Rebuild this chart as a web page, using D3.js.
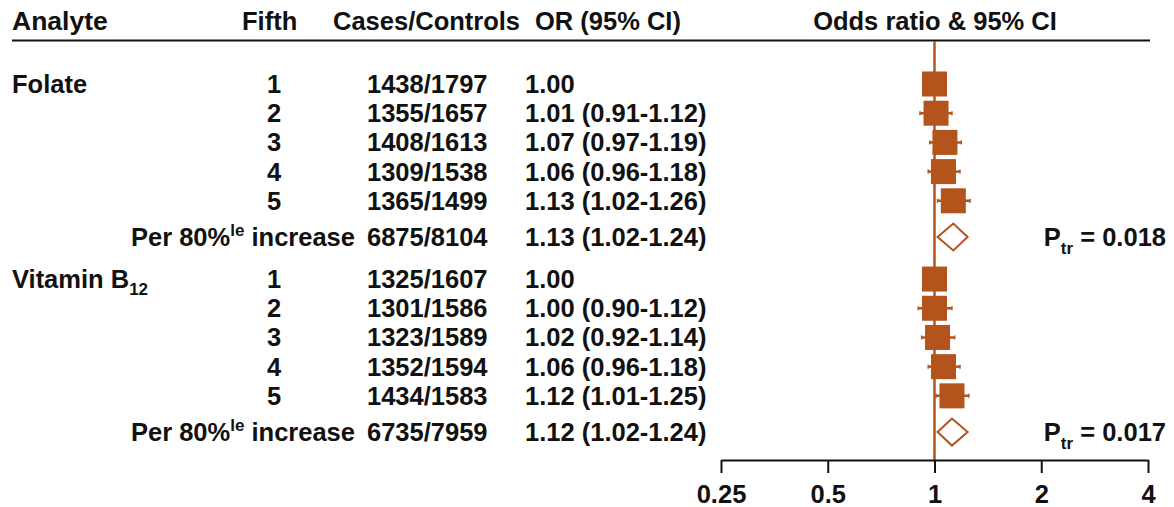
<!DOCTYPE html>
<html>
<head>
<meta charset="utf-8">
<script src="https://cdn.jsdelivr.net/npm/d3@7"></script>
<style>
  body { margin: 0; background: #fff; }
  text { font-family: "Liberation Sans", Arial, sans-serif; font-weight: bold; fill: #111; }
</style>
</head>
<body>
<div id="forest"></div>
<script>
const analytes = ["Folate", "Vitamin B12"];
const fifthLabels = ["1", "2", "3", "4", "5", "Per 80%le increase"];
const cases = [[1438, 1355, 1408, 1309, 1365, 6875], [1325, 1301, 1323, 1352, 1434, 6735]];
const controls = [[1797, 1657, 1613, 1538, 1499, 8104], [1607, 1586, 1589, 1594, 1583, 7959]];
const orValues = [[1.00, 1.01, 1.07, 1.06, 1.13, 1.13], [1.00, 1.00, 1.02, 1.06, 1.12, 1.12]];
const ciLower = [[null, 0.91, 0.97, 0.96, 1.02, 1.02], [null, 0.90, 0.92, 0.96, 1.01, 1.02]];
const ciUpper = [[null, 1.12, 1.19, 1.18, 1.26, 1.24], [null, 1.12, 1.14, 1.18, 1.25, 1.24]];
const pTrend = ["0.018", "0.017"];
const xTicks = [0.25, 0.5, 1, 2, 4];

const width = 1174, height = 507;
const orange = "#b4541d";
const fs = 25.5;

// build rows, with extra gap before the trend row and between analytes
const rows = [];
let slot = 0;
analytes.forEach((a, gi) => {
  if (gi > 0) slot += 0.44;
  fifthLabels.forEach((f, i) => {
    if (i === 5) slot += 0.24;
    rows.push({
      group: gi, analyte: i === 0 ? a : null, fifth: f, trend: i === 5,
      cc: cases[gi][i] + "/" + controls[gi][i],
      or: orValues[gi][i], lo: ciLower[gi][i], hi: ciUpper[gi][i],
      slot: slot
    });
    slot += 1;
  });
});

const svg = d3.select("#forest").append("svg")
  .attr("width", width)
  .attr("height", height);

const x = d3.scaleLog().base(2).domain([0.25, 4]).range([721, 1148]);
const y = d3.scaleLinear().domain([0, 1]).range([84, 113.2]);

// header
const header = svg.append("g").attr("font-size", fs);
header.append("text").attr("x", 12).attr("y", 30).attr("font-size", 26.5).text("Analyte");
header.append("text").attr("x", 242).attr("y", 30).text("Fifth");
header.append("text").attr("x", 333).attr("y", 30).text("Cases/Controls");
header.append("text").attr("x", 535).attr("y", 30).text("OR (95% CI)");
header.append("text").attr("x", 935).attr("y", 30).attr("text-anchor", "middle").text("Odds ratio & 95% CI");
svg.append("line")
  .attr("x1", 12).attr("x2", 1150).attr("y1", 40.5).attr("y2", 40.5)
  .attr("stroke", "#111").attr("stroke-width", 2);

// reference line at OR = 1
svg.append("line")
  .attr("x1", x(1)).attr("x2", x(1)).attr("y1", 41).attr("y2", 460)
  .attr("stroke", orange).attr("stroke-width", 2.5);

// table text
const rowG = svg.selectAll("g.row")
  .data(rows)
  .enter()
  .append("g")
  .attr("class", "row")
  .attr("font-size", fs)
  .attr("transform", d => `translate(0,${y(d.slot)})`);

rowG.filter(d => d.analyte).each(function(d) {
  const t = d3.select(this).append("text").attr("x", 12).attr("dy", "0.35em");
  if (d.analyte === "Vitamin B12") {
    t.append("tspan").text("Vitamin B");
    t.append("tspan").attr("font-size", 17).attr("dy", 7).text("12");
  } else {
    t.text(d.analyte);
  }
});

rowG.each(function(d) {
  const g = d3.select(this);
  if (d.trend) {
    const t = g.append("text").attr("x", 355).attr("dy", "0.35em").attr("text-anchor", "end");
    t.append("tspan").text("Per 80%");
    t.append("tspan").attr("font-size", 17).attr("dy", -10).text("le");
    t.append("tspan").attr("dy", 10).text(" increase");
    const p = g.append("text").attr("x", 1166).attr("dy", "0.35em").attr("text-anchor", "end");
    p.append("tspan").text("P");
    p.append("tspan").attr("font-size", 17).attr("dy", 8).text("tr");
    p.append("tspan").attr("dy", -8).text(" = " + pTrend[d.group]);
  } else {
    g.append("text").attr("x", 274).attr("dy", "0.35em").attr("text-anchor", "middle").text(d.fifth);
  }
  g.append("text").attr("x", 367).attr("dy", "0.35em").text(d.cc);
  const orText = d.lo == null ? d.or.toFixed(2)
    : `${d.or.toFixed(2)} (${d.lo.toFixed(2)}-${d.hi.toFixed(2)})`;
  g.append("text").attr("x", 525).attr("dy", "0.35em").text(orText);
});

// CI lines and squares
const marks = rowG.filter(d => !d.trend);
marks.filter(d => d.lo != null).append("line")
  .attr("x1", d => x(d.lo)).attr("x2", d => x(d.hi))
  .attr("stroke", orange).attr("stroke-width", 2.5);
marks.filter(d => d.lo != null).selectAll("line.cap")
  .data(d => [d.lo, d.hi])
  .enter()
  .append("line")
  .attr("x1", v => x(v)).attr("x2", v => x(v))
  .attr("y1", -2).attr("y2", 2)
  .attr("stroke", orange).attr("stroke-width", 1.5);
const sq = 25;
marks.append("rect")
  .attr("x", d => x(d.or) - sq / 2)
  .attr("y", -sq / 2)
  .attr("width", sq).attr("height", sq)
  .attr("fill", orange);

// diamonds for per-increase rows
rowG.filter(d => d.trend).append("path")
  .attr("d", d => `M${x(d.lo)},0L${x(d.or)},-13.5L${x(d.hi)},0L${x(d.or)},13.5Z`)
  .attr("fill", "#fff")
  .attr("stroke", orange)
  .attr("stroke-width", 2);

// axis
const axis = svg.append("g")
  .attr("transform", "translate(0,460)")
  .call(d3.axisBottom(x)
    .tickValues(xTicks)
    .tickFormat(d => String(d))
    .tickSize(13)
    .tickSizeOuter(0)
    .tickPadding(12));
axis.select(".domain").attr("stroke", "#111").attr("stroke-width", 2);
axis.selectAll(".tick line").attr("stroke", "#111").attr("stroke-width", 2);
axis.selectAll(".tick text")
  .attr("font-size", fs)
  .attr("font-family", "Liberation Sans, Arial, sans-serif")
  .attr("font-weight", "bold")
  .attr("fill", "#111");
</script>
</body>
</html>
